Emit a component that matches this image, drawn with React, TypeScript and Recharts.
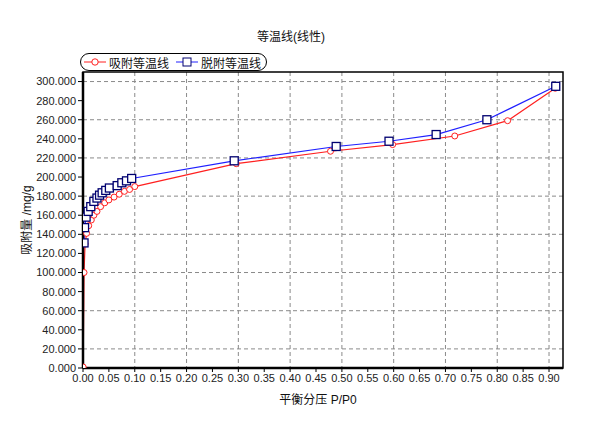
import {
  CartesianGrid,
  Label,
  Line,
  LineChart,
  ReferenceArea,
  XAxis,
  YAxis,
} from "recharts"

// adsorption branch (red circles)
const adsP = [0.0003, 0.002, 0.004, 0.007, 0.011, 0.016, 0.021, 0.027, 0.034, 0.042, 0.05, 0.06, 0.07, 0.08, 0.09, 0.1, 0.296, 0.478, 0.598, 0.718, 0.82, 0.912]
const adsQ = [1, 100, 130, 141, 149, 155, 160, 164, 169, 173, 176, 179, 182, 185, 187, 190, 214, 227, 234, 243, 259, 293]

// desorption branch (blue squares)
const desP = [0.002, 0.003, 0.006, 0.01, 0.015, 0.021, 0.027, 0.032, 0.037, 0.044, 0.051, 0.066, 0.075, 0.084, 0.094, 0.292, 0.489, 0.591, 0.682, 0.78, 0.913]
const desQ = [131, 147, 158, 164, 169, 174.5, 178, 181, 183.5, 186, 188.5, 191, 194, 196, 198.5, 217, 232, 237.5, 244.5, 260, 295]

const xTicks = [0, 0.05, 0.1, 0.15, 0.2, 0.25, 0.3, 0.35, 0.4, 0.45, 0.5, 0.55, 0.6, 0.65, 0.7, 0.75, 0.8, 0.85, 0.9]
const yTicks = [0, 20, 40, 60, 80, 100, 120, 140, 160, 180, 200, 220, 240, 260, 280, 300]

const X_MAX = 0.927
const Y_MAX = 310
const FONT = "'Liberation Sans', Arial, 'Noto Sans CJK SC', sans-serif"

const ads = adsP.map((x, i) => ({ x, y: adsQ[i] }))
const des = desP.map((x, i) => ({ x, y: desQ[i] }))

const SquareDot = (props: any) => {
  const { cx, cy, index } = props
  return (
    <rect
      key={index}
      x={cx - 4}
      y={cy - 4}
      width={8}
      height={8}
      fill="#fff"
      stroke="#000070"
      strokeWidth={1.3}
    />
  )
}

// legend drawn by hand: a Recharts <Legend> would eat into the plot margins
const LegendBox = () => (
  <div
    style={{
      position: "absolute",
      top: 45,
      left: 72,
      display: "flex",
      alignItems: "center",
      gap: 3,
      border: "1px solid #000",
      borderRadius: 9,
      padding: "0 5px 0 3px",
      height: 16,
      fontSize: 12,
      color: "#111",
      whiteSpace: "nowrap",
      background: "#fff",
    }}
  >
    <svg width={22} height={10}>
      <line x1={0} y1={5} x2={22} y2={5} stroke="#ff2020" strokeWidth={1} />
      <circle cx={11} cy={5} r={3.2} fill="#fff" stroke="#ff2020" />
    </svg>
    <span style={{ marginRight: 4 }}>吸附等温线</span>
    <svg width={22} height={10}>
      <line x1={0} y1={5} x2={22} y2={5} stroke="#2020ff" strokeWidth={1} />
      <rect x={7} y={1} width={8} height={8} fill="#fff" stroke="#000070" />
    </svg>
    <span>脱附等温线</span>
  </div>
)

export default function App() {
  return (
    <div style={{ position: "relative", width: 601, height: 415, fontFamily: FONT }}>
      <div
        style={{
          position: "absolute",
          top: 19,
          left: 0,
          width: 566,
          textAlign: "center",
          fontSize: 12,
          color: "#111",
        }}
      >
        等温线(线性)
      </div>
      <LineChart
        width={601}
        height={415}
        margin={{ top: 64, right: 46, left: 5, bottom: 25 }}
      >
        <CartesianGrid
          stroke="#8a8a8a"
          strokeDasharray="4 3"
          horizontalValues={yTicks}
          verticalValues={xTicks}
        />
        <XAxis
          dataKey="x"
          type="number"
          domain={[0, X_MAX]}
          ticks={xTicks}
          allowDataOverflow
          tickFormatter={(v: number) => v.toFixed(2)}
          tick={{ fill: "#222", fontSize: 11 }}
          tickSize={4}
          axisLine={{ stroke: "#000", strokeWidth: 2.5 }}
          tickLine={{ stroke: "#000" }}
          height={30}
        >
          <Label
            value="平衡分压 P/P0"
            position="insideBottom"
            offset={-6}
            dx={-5}
            style={{ fill: "#111", fontSize: 12 }}
          />
        </XAxis>
        <YAxis
          dataKey="y"
          type="number"
          domain={[0, Y_MAX]}
          ticks={yTicks}
          allowDataOverflow
          tickFormatter={(v: number) => v.toFixed(3)}
          tick={{ fill: "#222", fontSize: 11 }}
          tickSize={5}
          axisLine={{ stroke: "#000", strokeWidth: 2.5 }}
          tickLine={{ stroke: "#000" }}
          width={70}
        >
          <Label
            value="吸附量 /mg/g"
            angle={-90}
            position="insideLeft"
            offset={14}
            style={{ fill: "#111", fontSize: 12, textAnchor: "middle" }}
          />
        </YAxis>
        <ReferenceArea
          x1={0}
          x2={X_MAX}
          y1={0}
          y2={Y_MAX}
          fill="none"
          stroke="#000"
          strokeWidth={1.5}
        />
        <Line
          name="吸附等温线"
          data={ads}
          dataKey="y"
          stroke="#ff2020"
          strokeWidth={1.2}
          dot={{ r: 3, fill: "#fff", stroke: "#ff2020", strokeWidth: 1 }}
          isAnimationActive={false}
        />
        <Line
          name="脱附等温线"
          data={des}
          dataKey="y"
          stroke="#2020ff"
          strokeWidth={1.2}
          dot={<SquareDot />}
          isAnimationActive={false}
        />
      </LineChart>
      <LegendBox />
    </div>
  )
}
